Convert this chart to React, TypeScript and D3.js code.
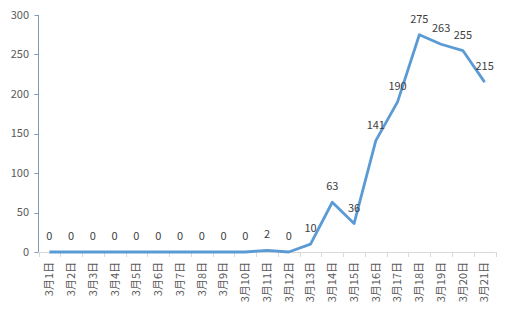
import React from "react";
import * as d3 from "d3";

const categories = ["3月1日","3月2日","3月3日","3月4日","3月5日","3月6日","3月7日","3月8日","3月9日","3月10日","3月11日","3月12日","3月13日","3月14日","3月15日","3月16日","3月17日","3月18日","3月19日","3月20日","3月21日"];
const values = [0,0,0,0,0,0,0,0,0,0,2,0,10,63,36,141,190,275,263,255,215];
const yTicks = [0,50,100,150,200,250,300];

const W = 509, H = 311;
const left = 38.5, right = 495.5, top = 15, bottom = 252;
const font = "'Noto Sans CJK SC', 'Microsoft YaHei', sans-serif";

export default function App() {
  const x = d3.scaleBand<string>().domain(categories).range([left, right]).padding(0);
  const y = d3.scaleLinear().domain([0, 300]).range([bottom, top]);
  const cx = (c: string) => (x(c) as number) + x.bandwidth() / 2;
  const line = d3.line<number>().x((_, i) => cx(categories[i])).y(d => y(d));
  const boundaries = d3.range(categories.length + 1).map(i => left + i * x.bandwidth());
  return (
    <svg width={W} height={H} style={{ position: "absolute", left: 0, top: 0, background: "#fff" }} fontFamily={font}>
      {yTicks.map(t => (
        <g key={t}>
          <line x1={left - 4} x2={left} y1={Math.round(y(t)) + 0.5} y2={Math.round(y(t)) + 0.5} stroke="#7f9bb8" />
          <text x={29} y={y(t)} dy="0.35em" textAnchor="end" fontSize={11} fill="#595959">{t}</text>
        </g>
      ))}
      <line x1={left} x2={left} y1={top} y2={bottom} stroke="#7f9bb8" />
      <line x1={left} x2={right} y1={bottom + 0.5} y2={bottom + 0.5} stroke="#d9d9d9" />
      {boundaries.map((b, i) => (
        <line key={i} x1={Math.round(b) + 0.5} x2={Math.round(b) + 0.5} y1={bottom} y2={bottom + 5} stroke="#d9d9d9" />
      ))}
      {categories.map(c => (
        <text key={c} transform={`translate(${cx(c)},${bottom + 10}) rotate(-90)`} dy="0.35em" textAnchor="end" fontSize={11} fill="#595959">{c}</text>
      ))}
      <path d={line(values) || ""} fill="none" stroke="#5B9BD5" strokeWidth={2.8} strokeLinejoin="round" />
      {values.map((v, i) => (
        <text key={i} x={cx(categories[i])} y={y(v) - 12} textAnchor="middle" fontSize={11} fill="#404040">{v}</text>
      ))}
    </svg>
  );
}
